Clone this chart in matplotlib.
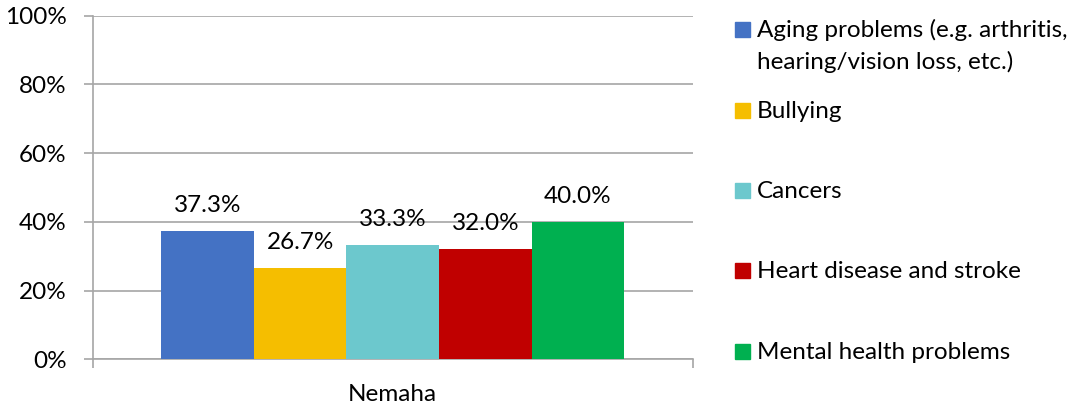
import matplotlib.pyplot as plt
from matplotlib.patches import Rectangle
from matplotlib.ticker import PercentFormatter

# data
group = 'Nemaha'
categories = ['Aging problems (e.g. arthritis,\nhearing/vision loss, etc.)', 'Bullying',
              'Cancers', 'Heart disease and stroke', 'Mental health problems']
values = [37.3, 26.7, 33.3, 32.0, 40.0]
colors = ['#4472C4', '#F5BE00', '#6CC8CD', '#C00000', '#00B050']
yticks = [0, 20, 40, 60, 80, 100]

plt.rcParams['font.family'] = ['Lato', 'DejaVu Sans']
FS = 17.5
GRID = '#A6A6A6'

W, H = 1082, 408
fig = plt.figure(figsize=(W / 100, H / 100), dpi=100)
ax = fig.add_axes([92.7 / W, 1 - 359.3 / H, 600 / W, (359.3 - 15.7) / H])

bw = 92.6 / 600
n = len(values)
for i, (v, c) in enumerate(zip(values, colors)):
    x = (i - (n - 1) / 2) * bw
    ax.bar(x, v, width=bw, color=c, zorder=3)
    ax.annotate(f'{v:.1f}%', (x, v), xytext=(0, 13.7), textcoords='offset points',
                ha='center', va='baseline', fontsize=FS, color='#000000', zorder=4)

ax.set_xlim(-0.5, 0.5)
ax.set_ylim(0, 100)
ax.set_yticks(yticks)
ax.yaxis.set_major_formatter(PercentFormatter(decimals=0))
ax.grid(axis='y', color=GRID, linewidth=1.2, zorder=0)
ax.set_xticks([-0.5, 0.5], ['', ''])
ax.set_xticks([0], [group], minor=True)
ax.tick_params(axis='x', which='major', length=6.3, width=1.2, color=GRID)
ax.tick_params(axis='x', which='minor', length=0, pad=17.5, labelsize=FS)
ax.tick_params(axis='y', length=6.3, width=1.2, color=GRID, pad=12.5, labelsize=FS)
for s in ['top', 'right']:
    ax.spines[s].set_visible(False)
for s in ['left', 'bottom']:
    ax.spines[s].set_color(GRID)
    ax.spines[s].set_linewidth(1.2)

# legend drawn by hand, squares sit on the first text baseline
baselines = [36.7, 118.3, 198, 278.3, 359]
for lab, c, b in zip(categories, colors, baselines):
    fig.patches.append(Rectangle((735 / W, 1 - b / H), 15 / W, 15 / H,
                                 transform=fig.transFigure, color=c))
    for k, line in enumerate(lab.split('\n')):
        fig.text(757 / W, 1 - (b + k * 32.6) / H, line, fontsize=FS,
                 ha='left', va='baseline', color='#000000')

fig.savefig('out.png', dpi=100)
